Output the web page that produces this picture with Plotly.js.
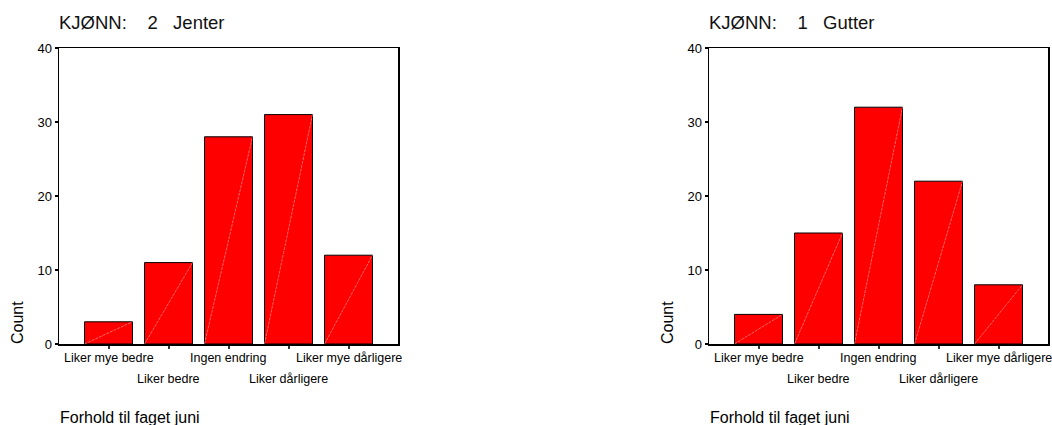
<!DOCTYPE html>
<html>
<head>
<meta charset="utf-8">
<script src="https://cdn.plot.ly/plotly-3.0.1.min.js"></script>
<style>html,body{margin:0;padding:0;background:#fff;}#chart{width:1052px;height:425px;}</style>
</head>
<body>
<div id="chart"></div>
<script>
const categories = ["Liker mye bedre", "Liker bedre", "Ingen endring", "Liker dårligere", "Liker mye dårligere"];
const jenterCounts = [3, 11, 28, 31, 12];
const gutterCounts = [4, 15, 32, 22, 8];
const panelTitles = ["KJØNN:\u00a0\u00a0\u00a0\u00a02\u00a0\u00a0\u00a0Jenter", "KJØNN:\u00a0\u00a0\u00a0\u00a01\u00a0\u00a0\u00a0Gutter"];
const yTicks = [0, 10, 20, 30, 40];
const xTitle = "Forhold til faget juni";
const yTitle = "Count";

const FONT = "Liberation Sans, Arial, sans-serif";
const W = 1052, H = 425;
const BARW = 0.8;
const idx = categories.map((_, i) => i);

function panel(values, xa, ya) {
  const bar = {
    type: "bar", x: idx, y: values, xaxis: xa, yaxis: ya, width: BARW,
    marker: {color: "#ff0000", line: {color: "#000", width: 1}},
    hoverinfo: "x+y", showlegend: false
  };
  const lx = [], ly = [];
  values.forEach((v, i) => { lx.push(i - BARW / 2, i + BARW / 2, null); ly.push(0, v, null); });
  const diag = {
    type: "scatter", mode: "lines", x: lx, y: ly, xaxis: xa, yaxis: ya,
    line: {color: "rgba(255,190,190,0.9)", width: 0.6, dash: "3px,1px"}, hoverinfo: "skip", showlegend: false
  };
  return [bar, diag];
}

const data = [...panel(jenterCounts, "x", "y"), ...panel(gutterCounts, "x2", "y2")];

const ydom = [1 - 344 / H, 1 - 48 / H];
function xaxis(dom, anchor) {
  return {
    domain: dom, anchor: anchor, range: [-0.825, 4.825], tickvals: idx, showticklabels: false,
    ticks: "outside", ticklen: 3, tickwidth: 2, tickcolor: "#333",
    showline: true, linecolor: "#000", linewidth: 1.5, mirror: true,
    showgrid: false, zeroline: false, fixedrange: true
  };
}
function yaxis(anchor) {
  return {
    domain: ydom, anchor: anchor, range: [0, 40], tickvals: yTicks,
    ticks: "outside", ticklen: 3, tickwidth: 2, tickcolor: "#000",
    tickfont: {family: FONT, size: 13, color: "#000"},
    showline: true, linecolor: "#000", linewidth: 1.5, mirror: true,
    showgrid: false, zeroline: false, fixedrange: true
  };
}

const panels = [
  {xa: "x", ya: "y", left: 59, right: 398, title: panelTitles[0]},
  {xa: "x2", ya: "y2", left: 709, right: 1048, title: panelTitles[1]}
];

const annotations = [];
panels.forEach(p => {
  annotations.push({text: p.title, xref: "paper", yref: "paper", x: (p.left - 2) / W, y: 1 - 23 / H,
    xanchor: "left", yanchor: "middle", showarrow: false, font: {family: FONT, size: 18.5, color: "#111"}});
  annotations.push({text: xTitle, xref: "paper", yref: "paper", x: (p.left - 1) / W, y: 1 - 417 / H,
    xanchor: "left", yanchor: "middle", showarrow: false, font: {family: FONT, size: 16, color: "#000"}});
  annotations.push({text: yTitle, xref: "paper", yref: "paper", x: (p.left - 42) / W, y: 1 - 323 / H,
    xanchor: "center", yanchor: "middle", textangle: -90, showarrow: false, font: {family: FONT, size: 16, color: "#000"}});
  categories.forEach((c, i) => {
    annotations.push({text: c, xref: p.xa, yref: p.ya + " domain", x: i, y: 0,
      xanchor: "center", yanchor: "middle", yshift: i % 2 === 0 ? -14 : -35, showarrow: false,
      font: {family: FONT, size: 12.5, color: "#000"}});
  });
});

const layout = {
  width: W, height: H, margin: {l: 0, r: 0, t: 0, b: 0},
  paper_bgcolor: "#fff", plot_bgcolor: "#fff",
  font: {family: FONT, color: "#000"},
  bargap: 0.2,
  xaxis: xaxis([59 / W, 398 / W], "y"),
  yaxis: yaxis("x"),
  xaxis2: xaxis([709 / W, 1048 / W], "y2"),
  yaxis2: yaxis("x2"),
  annotations: annotations
};

Plotly.newPlot("chart", data, layout, {displayModeBar: false, staticPlot: true});
</script>
</body>
</html>
